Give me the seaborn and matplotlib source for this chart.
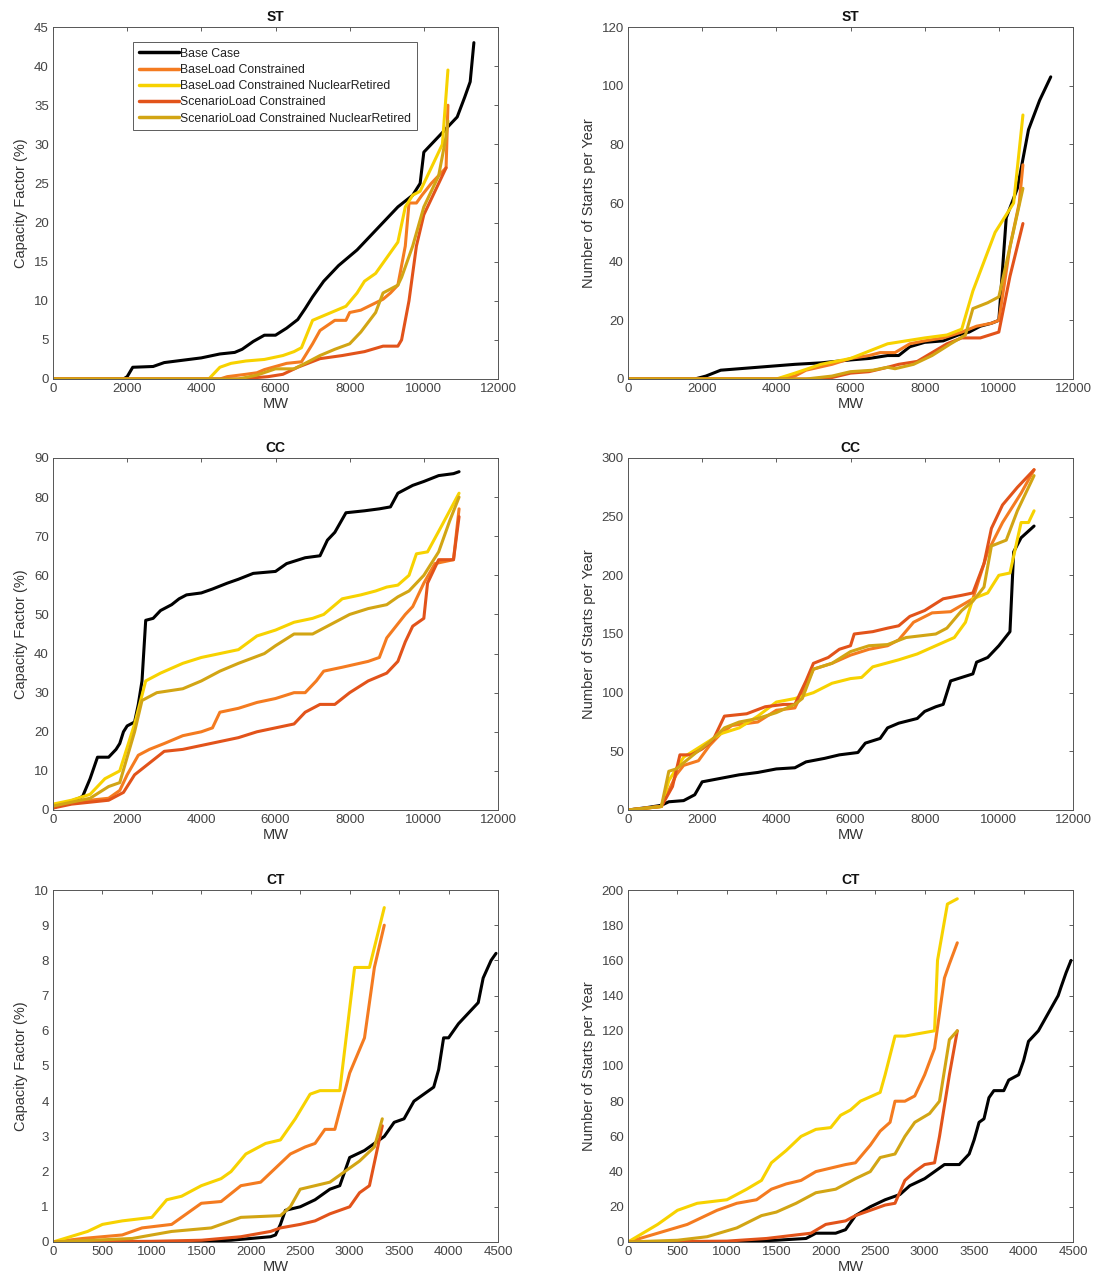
import numpy as np
import pandas as pd
import matplotlib
matplotlib.use("Agg")
import matplotlib.pyplot as plt
import seaborn as sns

scenarios = ["Base Case", "BaseLoad Constrained", "BaseLoad Constrained NuclearRetired",
             "ScenarioLoad Constrained", "ScenarioLoad Constrained NuclearRetired"]
colors = ["#000000", "#F47B20", "#F7D200", "#E2531A", "#D2A514"]

# ---------------- ST capacity factor ----------------
st_cf_base_x = [0, 1900, 2000, 2150, 2700, 3000, 3500, 4000, 4500, 4900, 5100, 5400, 5700, 6000, 6300, 6600, 6800, 7000, 7300, 7700, 8200, 8600, 9000, 9300, 9700, 9900, 10000, 10300, 10700, 10900, 11100, 11250, 11350]
st_cf_base_y = [0, 0, 0.3, 1.5, 1.6, 2.1, 2.4, 2.7, 3.2, 3.4, 3.8, 4.8, 5.6, 5.6, 6.5, 7.6, 9.0, 10.5, 12.5, 14.5, 16.5, 18.5, 20.5, 22.0, 23.5, 25.0, 29.0, 30.5, 32.5, 33.5, 36.0, 38.0, 43.0]
st_cf_bl_x = [0, 4500, 4700, 5200, 5500, 5700, 6000, 6300, 6700, 7000, 7200, 7600, 7900, 8000, 8300, 8600, 8900, 9100, 9300, 9500, 9600, 9800, 9950, 10200, 10600, 10650]
st_cf_bl_y = [0, 0, 0.3, 0.6, 0.8, 1.2, 1.6, 2.0, 2.2, 4.5, 6.2, 7.5, 7.5, 8.5, 8.8, 9.5, 10.2, 11.0, 12.0, 17.0, 22.5, 22.5, 23.5, 25.0, 27.0, 35.0]
st_cf_blnr_x = [0, 4200, 4500, 4800, 5200, 5700, 6200, 6500, 6700, 7000, 7500, 7900, 8200, 8400, 8700, 9000, 9300, 9500, 9700, 9900, 10200, 10500, 10650]
st_cf_blnr_y = [0, 0, 1.5, 2.0, 2.3, 2.5, 3.0, 3.5, 4.0, 7.5, 8.5, 9.3, 11.0, 12.5, 13.5, 15.5, 17.5, 22.0, 23.5, 24.0, 27.0, 30.0, 39.5]
st_cf_sl_x = [0, 5000, 5800, 6200, 6600, 7200, 7800, 8400, 8900, 9300, 9400, 9600, 9800, 10000, 10300, 10600]
st_cf_sl_y = [0, 0, 0.3, 0.6, 1.5, 2.6, 3.0, 3.5, 4.2, 4.2, 5.0, 10.0, 17.0, 21.0, 24.0, 27.0]
st_cf_slnr_x = [0, 5000, 5500, 6000, 6500, 6800, 7200, 7600, 8000, 8300, 8700, 8900, 9300, 9400, 9700, 10000, 10400, 10600, 10650]
st_cf_slnr_y = [0, 0, 0.5, 1.3, 1.3, 2.0, 3.0, 3.8, 4.5, 6.0, 8.5, 11.0, 12.0, 13.0, 17.0, 22.0, 26.0, 31.0, 33.0]

# ---------------- ST starts ----------------
st_ns_base_x = [0, 1800, 2100, 2500, 3500, 4500, 5200, 5600, 6000, 6500, 7000, 7300, 7600, 8000, 8500, 8900, 9200, 9500, 9800, 10000, 10200, 10500, 10800, 11100, 11400]
st_ns_base_y = [0, 0, 1, 3, 4, 5, 5.5, 6, 6.5, 7, 8, 8, 11, 12.5, 13, 15, 16, 18, 19, 20, 55, 65, 85, 95, 103]
st_ns_bl_x = [0, 4000, 4500, 4800, 5500, 6000, 6500, 6800, 7200, 7600, 8000, 8500, 9000, 9400, 9800, 10000, 10300, 10550, 10650]
st_ns_bl_y = [0, 0, 1, 3, 5, 7, 8, 9, 9, 12, 13, 14, 16, 18, 19, 20, 45, 60, 73]
st_ns_blnr_x = [0, 4000, 4500, 5200, 6000, 6600, 7000, 7500, 8000, 8600, 9000, 9300, 9900, 10400, 10650]
st_ns_blnr_y = [0, 0, 2, 5, 7, 10, 12, 13, 14, 15, 17, 30, 50, 60, 90]
st_ns_sl_x = [0, 5000, 5500, 6000, 6500, 7000, 7300, 7800, 8200, 8600, 9000, 9500, 10000, 10300, 10650]
st_ns_sl_y = [0, 0, 0.5, 2, 2.5, 4, 5, 6, 9, 12, 14, 14, 16, 35, 53]
st_ns_slnr_x = [0, 4800, 5500, 6000, 6600, 7000, 7200, 7700, 8200, 8700, 9100, 9300, 9700, 10000, 10300, 10650]
st_ns_slnr_y = [0, 0, 1, 2.5, 3, 4, 3.5, 5, 8, 12, 15, 24, 26, 28, 45, 65]

# ---------------- CC capacity factor ----------------
cc_cf_base_x = [0, 400, 700, 800, 1000, 1200, 1500, 1700, 1800, 1900, 2000, 2200, 2300, 2400, 2500, 2700, 2900, 3200, 3400, 3600, 4000, 4300, 4700, 5000, 5400, 6000, 6300, 6800, 7200, 7400, 7600, 7900, 8400, 8800, 9100, 9300, 9700, 10000, 10400, 10800, 10950]
cc_cf_base_y = [0.5, 2, 3, 3.5, 8, 13.5, 13.5, 15.5, 17, 20, 21.5, 22.5, 27, 33, 48.5, 49, 51, 52.5, 54, 55, 55.5, 56.5, 58, 59, 60.5, 61, 63, 64.5, 65, 69, 71, 76, 76.5, 77, 77.5, 81, 83, 84, 85.5, 86, 86.5]
cc_cf_bl_x = [0, 500, 1000, 1500, 1800, 2000, 2300, 2600, 3000, 3500, 4000, 4300, 4500, 5000, 5500, 6000, 6500, 6800, 7100, 7300, 7800, 8500, 8800, 9000, 9500, 9700, 10000, 10300, 10800, 10950]
cc_cf_bl_y = [1, 2, 2.5, 3, 5, 9, 14, 15.5, 17, 19, 20, 21, 25, 26, 27.5, 28.5, 30, 30, 33, 35.5, 36.5, 38, 39, 44, 50, 52, 58, 63, 64, 77]
cc_cf_blnr_x = [0, 500, 1000, 1400, 1800, 2200, 2500, 2900, 3500, 4000, 4500, 5000, 5500, 6000, 6500, 7000, 7300, 7800, 8300, 8700, 9000, 9300, 9600, 9800, 10100, 10500, 10950]
cc_cf_blnr_y = [1.5, 2.5, 4, 8, 10, 22, 33, 35, 37.5, 39, 40, 41, 44.5, 46, 48, 49, 50, 54, 55, 56, 57, 57.5, 60, 65.5, 66, 73, 81]
cc_cf_sl_x = [0, 500, 1000, 1500, 1900, 2200, 2600, 3000, 3500, 4000, 4500, 5000, 5500, 6000, 6500, 6800, 7200, 7600, 8000, 8500, 9000, 9300, 9500, 9700, 10000, 10100, 10400, 10800, 10950]
cc_cf_sl_y = [0.5, 1.5, 2, 2.5, 4.5, 9, 12, 15, 15.5, 16.5, 17.5, 18.5, 20, 21, 22, 25, 27, 27, 30, 33, 35, 38, 43, 47, 49, 58, 64, 64, 75]
cc_cf_slnr_x = [0, 500, 1000, 1500, 1800, 2200, 2400, 2800, 3500, 4000, 4500, 5000, 5700, 6000, 6500, 7000, 7500, 8000, 8500, 9000, 9300, 9600, 10000, 10400, 10700, 10950]
cc_cf_slnr_y = [1, 2, 3, 6, 7, 20, 28, 30, 31, 33, 35.5, 37.5, 40, 42, 45, 45, 47.5, 50, 51.5, 52.5, 54.5, 56, 60, 66, 74, 80]

# ---------------- CC starts ----------------
cc_ns_base_x = [0, 500, 900, 1100, 1500, 1800, 2000, 2500, 3000, 3500, 4000, 4500, 4800, 5300, 5700, 6200, 6400, 6800, 7000, 7300, 7800, 8000, 8300, 8500, 8700, 9000, 9300, 9400, 9700, 10000, 10300, 10400, 10600, 10950]
cc_ns_base_y = [0, 2, 4, 7, 8, 13, 24, 27, 30, 32, 35, 36, 41, 44, 47, 49, 57, 61, 70, 74, 78, 84, 88, 90, 110, 113, 116, 126, 130, 140, 152, 220, 232, 242]
cc_ns_bl_x = [0, 900, 1300, 1500, 1900, 2200, 2500, 2800, 3500, 4000, 4500, 4700, 5000, 5500, 6000, 6500, 7000, 7300, 7700, 8200, 8700, 9300, 9500, 9700, 10100, 10600, 10950]
cc_ns_bl_y = [0, 3, 30, 38, 42, 55, 65, 72, 75, 85, 87, 100, 120, 125, 132, 137, 140, 145, 160, 168, 169, 180, 200, 220, 245, 270, 290]
cc_ns_blnr_x = [0, 900, 1100, 1500, 2000, 2500, 3000, 3500, 4000, 4500, 5000, 5500, 6000, 6300, 6600, 7300, 7800, 8300, 8800, 9100, 9300, 9700, 10000, 10300, 10600, 10800, 10950]
cc_ns_blnr_y = [0, 3, 25, 45, 55, 65, 70, 80, 92, 95, 100, 108, 112, 113, 122, 128, 133, 140, 147, 160, 180, 185, 200, 202, 245, 245, 255]
cc_ns_sl_x = [0, 900, 1200, 1400, 1700, 2000, 2300, 2600, 3200, 3700, 4200, 4500, 4800, 5000, 5400, 5700, 6000, 6100, 6600, 7000, 7300, 7600, 8000, 8500, 9000, 9300, 9600, 9800, 10100, 10500, 10950]
cc_ns_sl_y = [0, 3, 20, 47, 47, 52, 60, 80, 82, 88, 90, 90, 110, 125, 130, 137, 140, 150, 152, 155, 157, 165, 170, 180, 183, 185, 210, 240, 260, 275, 290]
cc_ns_slnr_x = [0, 900, 1100, 1300, 1800, 2200, 2600, 3000, 3500, 4000, 4500, 4700, 5000, 5500, 6000, 6500, 7000, 7500, 8300, 8600, 9000, 9300, 9600, 9800, 10200, 10500, 10950]
cc_ns_slnr_y = [0, 3, 33, 35, 48, 58, 70, 75, 78, 83, 90, 95, 120, 125, 135, 140, 141, 147, 150, 155, 170, 178, 190, 225, 230, 255, 285]

# ---------------- CT capacity factor ----------------
ct_cf_base_x = [0, 800, 1500, 1800, 2000, 2200, 2250, 2300, 2350, 2500, 2650, 2800, 2900, 2950, 3000, 3150, 3250, 3350, 3450, 3550, 3650, 3750, 3850, 3900, 3950, 4000, 4100, 4200, 4300, 4350, 4430, 4480]
ct_cf_base_y = [0, 0, 0.02, 0.05, 0.1, 0.15, 0.2, 0.5, 0.9, 1.0, 1.2, 1.5, 1.6, 2.0, 2.4, 2.6, 2.8, 3.0, 3.4, 3.5, 4.0, 4.2, 4.4, 4.9, 5.8, 5.8, 6.2, 6.5, 6.8, 7.5, 8.0, 8.2]
ct_cf_bl_x = [0, 300, 700, 900, 1200, 1350, 1500, 1700, 1900, 2100, 2250, 2400, 2550, 2650, 2750, 2850, 3000, 3150, 3250, 3350]
ct_cf_bl_y = [0, 0.1, 0.2, 0.4, 0.5, 0.8, 1.1, 1.15, 1.6, 1.7, 2.1, 2.5, 2.7, 2.8, 3.2, 3.2, 4.8, 5.8, 7.8, 9.0]
ct_cf_blnr_x = [0, 350, 500, 700, 1000, 1150, 1300, 1500, 1700, 1800, 1950, 2150, 2300, 2450, 2600, 2700, 2900, 3050, 3200, 3350]
ct_cf_blnr_y = [0, 0.3, 0.5, 0.6, 0.7, 1.2, 1.3, 1.6, 1.8, 2.0, 2.5, 2.8, 2.9, 3.5, 4.2, 4.3, 4.3, 7.8, 7.8, 9.5]
ct_cf_sl_x = [0, 1000, 1500, 1900, 2200, 2300, 2500, 2650, 2800, 3000, 3100, 3200, 3330]
ct_cf_sl_y = [0, 0.02, 0.05, 0.15, 0.3, 0.4, 0.5, 0.6, 0.8, 1.0, 1.4, 1.6, 3.3]
ct_cf_slnr_x = [0, 800, 1200, 1600, 1900, 2300, 2400, 2500, 2800, 2900, 3100, 3250, 3330]
ct_cf_slnr_y = [0, 0.1, 0.3, 0.4, 0.7, 0.75, 1.0, 1.5, 1.7, 1.9, 2.3, 2.7, 3.5]

# ---------------- CT starts ----------------
ct_ns_base_x = [0, 1000, 1500, 1800, 1900, 2100, 2200, 2300, 2450, 2600, 2750, 2850, 3000, 3100, 3200, 3350, 3450, 3500, 3550, 3600, 3650, 3700, 3800, 3850, 3950, 4000, 4050, 4150, 4250, 4350, 4380, 4430, 4480]
ct_ns_base_y = [0, 0, 1, 2, 5, 5, 7, 15, 20, 24, 27, 32, 36, 40, 44, 44, 50, 58, 68, 70, 82, 86, 86, 92, 95, 103, 114, 120, 130, 140, 145, 153, 160]
ct_ns_bl_x = [0, 300, 600, 900, 1100, 1300, 1450, 1600, 1750, 1900, 2050, 2200, 2300, 2450, 2550, 2650, 2700, 2800, 2900, 3000, 3100, 3200, 3250, 3330]
ct_ns_bl_y = [0, 5, 10, 18, 22, 24, 30, 33, 35, 40, 42, 44, 45, 55, 63, 68, 80, 80, 83, 95, 110, 150, 158, 170]
ct_ns_blnr_x = [0, 300, 500, 700, 1000, 1200, 1350, 1450, 1600, 1750, 1900, 2050, 2150, 2250, 2350, 2550, 2600, 2700, 2800, 3100, 3130, 3230, 3330]
ct_ns_blnr_y = [0, 10, 18, 22, 24, 30, 35, 45, 52, 60, 64, 65, 72, 75, 80, 85, 95, 117, 117, 120, 160, 192, 195]
ct_ns_sl_x = [0, 1000, 1400, 1700, 1850, 2000, 2200, 2300, 2450, 2600, 2700, 2800, 2900, 3000, 3100, 3150, 3250, 3330]
ct_ns_sl_y = [0, 0.5, 2, 4, 5, 10, 12, 15, 18, 21, 22, 35, 40, 44, 45, 60, 95, 120]
ct_ns_slnr_x = [0, 500, 800, 1100, 1350, 1500, 1700, 1900, 2100, 2300, 2450, 2550, 2700, 2800, 2900, 3050, 3150, 3250, 3330]
ct_ns_slnr_y = [0, 1, 3, 8, 15, 17, 22, 28, 30, 36, 40, 48, 50, 60, 68, 73, 80, 115, 120]

panels = [
    ("ST", "Capacity Factor (%)", 12000, 2000, 45, 5,
     [(st_cf_base_x, st_cf_base_y), (st_cf_bl_x, st_cf_bl_y), (st_cf_blnr_x, st_cf_blnr_y), (st_cf_sl_x, st_cf_sl_y), (st_cf_slnr_x, st_cf_slnr_y)]),
    ("ST", "Number of Starts per Year", 12000, 2000, 120, 20,
     [(st_ns_base_x, st_ns_base_y), (st_ns_bl_x, st_ns_bl_y), (st_ns_blnr_x, st_ns_blnr_y), (st_ns_sl_x, st_ns_sl_y), (st_ns_slnr_x, st_ns_slnr_y)]),
    ("CC", "Capacity Factor (%)", 12000, 2000, 90, 10,
     [(cc_cf_base_x, cc_cf_base_y), (cc_cf_bl_x, cc_cf_bl_y), (cc_cf_blnr_x, cc_cf_blnr_y), (cc_cf_sl_x, cc_cf_sl_y), (cc_cf_slnr_x, cc_cf_slnr_y)]),
    ("CC", "Number of Starts per Year", 12000, 2000, 300, 50,
     [(cc_ns_base_x, cc_ns_base_y), (cc_ns_bl_x, cc_ns_bl_y), (cc_ns_blnr_x, cc_ns_blnr_y), (cc_ns_sl_x, cc_ns_sl_y), (cc_ns_slnr_x, cc_ns_slnr_y)]),
    ("CT", "Capacity Factor (%)", 4500, 500, 10, 1,
     [(ct_cf_base_x, ct_cf_base_y), (ct_cf_bl_x, ct_cf_bl_y), (ct_cf_blnr_x, ct_cf_blnr_y), (ct_cf_sl_x, ct_cf_sl_y), (ct_cf_slnr_x, ct_cf_slnr_y)]),
    ("CT", "Number of Starts per Year", 4500, 500, 200, 20,
     [(ct_ns_base_x, ct_ns_base_y), (ct_ns_bl_x, ct_ns_bl_y), (ct_ns_blnr_x, ct_ns_blnr_y), (ct_ns_sl_x, ct_ns_sl_y), (ct_ns_slnr_x, ct_ns_slnr_y)]),
]

sns.set_style("white")
plt.rcParams["font.family"] = ["Liberation Sans", "DejaVu Sans"]

fig = plt.figure(figsize=(10.97, 12.84), dpi=100)
W, H = 1097, 1284
lefts = [53, 628]
tops = [27, 458, 890]
aw, ah = 445, 352

palette = dict(zip(scenarios, colors))
for i, (title, ylabel, xmax, xstep, ymax, ystep, series) in enumerate(panels):
    r, c = divmod(i, 2)
    ax = fig.add_axes([lefts[c] / W, 1 - (tops[r] + ah) / H, aw / W, ah / H])
    rows = []
    for name, (xs, ys) in zip(scenarios, series):
        for k, (xv, yv) in enumerate(zip(xs, ys)):
            rows.append((name, k, xv, yv))
    df = pd.DataFrame(rows, columns=["scenario", "idx", "MW", "val"])
    sns.lineplot(data=df, x="MW", y="val", hue="scenario", hue_order=scenarios,
                 palette=palette, estimator=None, sort=False,
                 linewidth=2.2, ax=ax, legend=(i == 0))
    ax.set_xlim(0, xmax)
    ax.set_ylim(0, ymax)
    ax.set_xticks(np.arange(0, xmax + 1, xstep))
    ax.set_yticks(np.arange(0, ymax + 0.001, ystep))
    ax.set_title(title, fontsize=10, fontweight="bold", pad=4, color="#111111")
    ax.set_xlabel("MW", fontsize=10.5, color="#333333", labelpad=1)
    ax.set_ylabel(ylabel, fontsize=10.5, color="#333333", labelpad=4)
    ax.tick_params(direction="in", length=3, width=0.6, top=True, right=True,
                   labelsize=9.5, colors="#444444", pad=3)
    for s in ax.spines.values():
        s.set_visible(True)
        s.set_color("#555555")
        s.set_linewidth(0.7)
    if i == 0:
        leg = ax.legend(loc="upper left", bbox_to_anchor=(0.18, 0.957), fontsize=8.8,
                        frameon=True, fancybox=False, handlelength=3.3,
                        handletextpad=0.1, borderpad=0.45, labelspacing=0.35,
                        borderaxespad=0)
        leg.get_frame().set_edgecolor("#333333")
        leg.get_frame().set_linewidth(0.7)
        for t in leg.get_texts():
            t.set_color("#222222")
        for l in leg.get_lines():
            l.set_linewidth(2.5)

fig.savefig("out.png", dpi=100)
